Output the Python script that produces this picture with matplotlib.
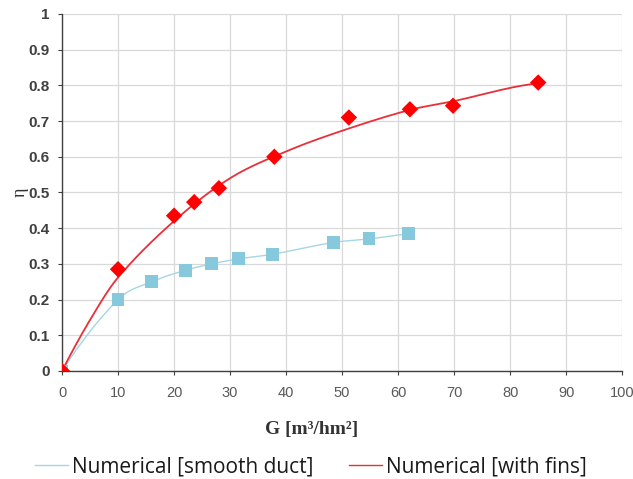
import matplotlib
matplotlib.use("Agg")
import matplotlib.pyplot as plt
import numpy as np
from matplotlib.lines import Line2D

# Smooth duct: simulated points (line drawn through them)
g_smooth = [0, 10, 16, 22, 26.7, 31.5, 37.6, 48.4, 54.8, 61.8]
eta_smooth = [0.0, 0.200, 0.250, 0.282, 0.300, 0.314, 0.327, 0.360, 0.370, 0.385]

# With fins: simulated points
g_fins = [0, 10, 20, 23.6, 28, 37.9, 51.2, 62.1, 69.8, 85]
eta_fins = [0.0, 0.285, 0.435, 0.473, 0.512, 0.600, 0.710, 0.733, 0.743, 0.808]

# With fins: trend curve values
g_fins_curve = [0, 5, 10, 20, 30, 40, 50, 62, 70, 80, 85]
eta_fins_curve = [0.0, 0.143, 0.262, 0.420, 0.540, 0.615, 0.673, 0.731, 0.756, 0.793, 0.806]

x_ticks = list(range(0, 101, 10))
y_ticks = [round(0.1 * i, 1) for i in range(11)]
y_labels = ["0", "0.1", "0.2", "0.3", "0.4", "0.5", "0.6", "0.7", "0.8", "0.9", "1"]

RED = "#ff0000"
RED_LINE = "#e8303a"
BLUE = "#86c8dc"
BLUE_LINE = "#a5d6e4"


def smooth_line(xs, ys, n=25):
    """Cubic Hermite curve through the points, slopes from neighbours."""
    x = np.asarray(xs, float)
    y = np.asarray(ys, float)
    d = np.diff(y) / np.diff(x)
    m = np.empty_like(x)
    m[1:-1] = (y[2:] - y[:-2]) / (x[2:] - x[:-2])
    m[0] = 2 * d[0] - m[1]
    m[-1] = 2 * d[-1] - m[-2]
    px, py = [], []
    for i in range(len(x) - 1):
        h = x[i + 1] - x[i]
        t = np.linspace(0, 1, n, endpoint=False)
        h00 = 2 * t**3 - 3 * t**2 + 1
        h10 = t**3 - 2 * t**2 + t
        h01 = -2 * t**3 + 3 * t**2
        h11 = t**3 - t**2
        px.append(x[i] + t * h)
        py.append(h00 * y[i] + h10 * h * m[i] + h01 * y[i + 1] + h11 * h * m[i + 1])
    px.append([x[-1]])
    py.append([y[-1]])
    return np.concatenate(px), np.concatenate(py)


fig = plt.figure(figsize=(6.33, 4.79), dpi=100)
ax = fig.add_axes([0.098, 0.2255, 0.885, 0.7453])

sx, sy = smooth_line(g_smooth, eta_smooth)
ax.plot(sx, sy, color=BLUE_LINE, lw=1.0, zorder=2)
fx, fy = smooth_line(g_fins_curve, eta_fins_curve)
ax.plot(fx, fy, color=RED_LINE, lw=1.3, zorder=3)

ax.scatter(g_smooth, eta_smooth, marker="s", s=85, color=BLUE,
           edgecolors="none", zorder=4)
ax.scatter(g_fins, eta_fins, marker="D", s=70, color=RED,
           edgecolors="none", zorder=5)

ax.set_xlim(0, 100)
ax.set_ylim(0, 1)
ax.set_xticks(x_ticks)
ax.set_yticks(y_ticks)
ax.set_yticklabels(y_labels)
ax.grid(True, color="#d9d9d9", lw=0.9)
ax.set_axisbelow(True)

for side in ("top", "right"):
    ax.spines[side].set_visible(False)
for side in ("left", "bottom"):
    ax.spines[side].set_color("#404040")
    ax.spines[side].set_linewidth(1.0)

ax.tick_params(axis="y", length=3, color="#404040", pad=6,
               labelsize=11, labelcolor="#404040")
ax.tick_params(axis="x", length=3, color="#404040", pad=8,
               labelsize=10.5, labelcolor="#595959")
for lab in ax.get_yticklabels():
    lab.set_fontweight("bold")
    lab.set_fontfamily("Liberation Sans")
for lab in ax.get_xticklabels():
    lab.set_fontfamily("Liberation Sans")

ax.set_xlabel("G [m³/hm²]", family="Liberation Serif", fontsize=14,
              fontweight="bold", color="#333333")
ax.xaxis.set_label_coords(0.445, -0.14)
ax.set_ylabel("η", family="Liberation Serif", fontsize=13,
              color="#333333", labelpad=0)

handles = [Line2D([], [], color=BLUE_LINE, lw=1.0),
           Line2D([], [], color=RED_LINE, lw=1.0)]
fig.legend(handles, ["Numerical [smooth duct]", "Numerical [with fins]"],
           loc="center", bbox_to_anchor=(0.491, 0.026), ncol=2, frameon=False,
           prop={"family": "Open Sans", "size": 15}, handlelength=1.6,
           handletextpad=0.2, columnspacing=1.7, labelcolor="#1a1a1a")

fig.savefig("out.png", dpi=100)
